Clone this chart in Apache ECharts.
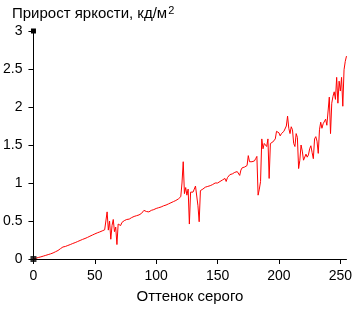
<!DOCTYPE html>
<html><head><meta charset="utf-8">
<script src="https://cdn.jsdelivr.net/npm/echarts@6/dist/echarts.min.js"></script>
<style>html,body{margin:0;padding:0;background:#fff}#c{width:355px;height:309px}</style>
</head><body><div id="c"></div>
<script>
var xTicks = [0, 50, 100, 150, 200, 250];
var yTicks = [0, 0.5, 1, 1.5, 2, 2.5, 3];
var brightnessGain = [
0,0.004,0.010,0.014,0.020,0.022,0.028,0.032,0.038,0.042,
0.048,0.052,0.058,0.062,0.068,0.072,0.080,0.088,0.096,0.104,
0.112,0.122,0.136,0.150,0.158,0.160,0.165,0.172,0.178,0.184,
0.190,0.196,0.204,0.210,0.216,0.222,0.230,0.236,0.244,0.250,
0.258,0.264,0.270,0.278,0.284,0.292,0.300,0.306,0.315,0.322,
0.330,0.336,0.344,0.350,0.356,0.362,0.370,0.378,0.384,0.400,
0.620,0.380,0.500,0.260,0.440,0.520,0.360,0.420,0.190,0.460,
0.470,0.440,0.480,0.500,0.505,0.515,0.520,0.530,0.525,0.540,
0.545,0.550,0.560,0.555,0.570,0.575,0.580,0.590,0.600,0.620,
0.640,0.615,0.625,0.630,0.620,0.635,0.640,0.630,0.650,0.655,
0.665,0.670,0.675,0.680,0.685,0.690,0.700,0.705,0.710,0.720,
0.725,0.730,0.740,0.745,0.755,0.765,0.770,0.780,0.790,0.800,
0.820,1.000,1.280,0.860,0.940,0.840,0.920,0.460,0.880,0.900,
0.880,0.920,0.960,0.970,0.700,0.490,0.900,0.910,0.920,0.930,
0.945,0.950,0.955,0.960,0.965,0.970,0.980,0.985,1.000,1.020,
1.000,1.010,1.020,1.030,1.040,1.050,1.060,1.020,1.070,1.090,
1.110,1.100,1.120,1.130,1.140,1.135,1.150,1.160,1.100,1.170,
1.200,1.190,1.210,1.220,1.230,1.360,1.280,1.270,1.280,1.270,
1.290,1.320,1.350,0.840,0.920,1.020,1.580,1.450,1.520,1.540,
1.480,1.580,1.060,1.520,1.530,1.540,1.550,1.580,1.680,1.700,
1.660,1.620,1.650,1.660,1.680,1.700,1.750,1.880,1.720,1.650,
1.740,1.700,1.520,1.480,1.650,1.600,1.190,1.300,1.500,1.420,
1.300,1.280,1.380,1.340,1.370,1.450,1.490,1.400,1.320,1.580,
1.610,1.550,1.390,1.700,1.800,1.720,1.780,1.800,1.840,1.760,
1.780,2.130,1.650,2.050,2.140,2.200,2.100,2.390,2.050,2.340,
2.210,2.390,2.010,2.490,2.600,2.670
];
var seriesData = brightnessGain.map(function(v, i){ return [i, v]; });
var chart = echarts.init(document.getElementById('c'), null, {renderer:'canvas'});
var font = 'Liberation Sans, Arial, sans-serif';
chart.setOption({
  animation: false,
  backgroundColor: '#fff',
  title: {
    left: 7, top: 0,
    text: '{a|Прирост яркости, кд/м}{s|2}',
    textStyle: {
      fontWeight: 'normal',
      rich: {
        a: {fontFamily: font, fontSize: 15, color: '#000', fontWeight: 'normal'},
        s: {fontFamily: font, fontSize: 11, color: '#000', fontWeight: 'normal', verticalAlign: 'top', padding: [0,0,7,1]}
      }
    }
  },
  grid: {left: 32, right: 6, top: 31, bottom: 47, containLabel: false},
  xAxis: {
    type: 'value', min: 0, max: 255, interval: 50,
    name: 'Оттенок серого', nameLocation: 'middle', nameGap: 30,
    nameTextStyle: {fontFamily: font, fontSize: 15, color: '#000'},
    splitLine: {show: false},
    axisLine: {show: true, onZero: false, lineStyle: {color: '#000', width: 1}},
    axisTick: {show: true, length: 5, lineStyle: {color: '#000'}, customValues: xTicks},
    axisLabel: {fontFamily: font, fontSize: 14, color: '#000', margin: 10, customValues: xTicks}
  },
  yAxis: {
    type: 'value', min: 0, max: 3, interval: 0.5,
    splitLine: {show: false},
    axisLine: {show: true, lineStyle: {color: '#000', width: 1}, symbol: ['none', 'rect'], symbolSize: [5, 5], symbolOffset: [0, 0]},
    axisTick: {show: true, length: 5, lineStyle: {color: '#000'}, customValues: yTicks},
    axisLabel: {fontFamily: font, fontSize: 14, color: '#000', margin: 11, customValues: yTicks}
  },
  series: [
    {
      type: 'line', data: seriesData, showSymbol: false, symbol: 'none',
      lineStyle: {color: '#ff0000', width: 1}, z: 2
    },
    {
      type: 'scatter', data: [[0, 0]], symbol: 'rect', symbolSize: 6,
      itemStyle: {color: '#000'}, z: 3, silent: true
    }
  ]
});
</script></body></html>
